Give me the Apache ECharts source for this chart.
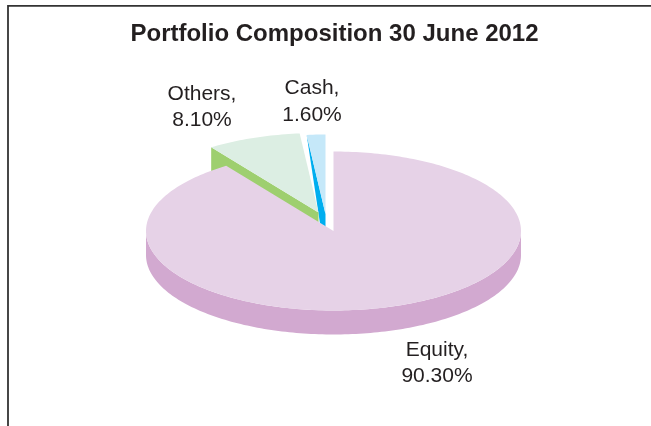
<!DOCTYPE html>
<html>
<head>
<meta charset="utf-8">
<style>
html, body { margin: 0; padding: 0; background: #fff; }
#chart1 { width: 651px; height: 426px; }
</style>
<script src="https://cdn.jsdelivr.net/npm/echarts@6/dist/echarts.min.js"></script>
</head>
<body>
<div id="chart1"></div>
<script>
/* portfolio composition, tilted pie */
var categories = ['Equity', 'Others', 'Cash'];
var shares = [90.3, 8.1, 1.6];
var labelTexts = ['Equity,\n90.30%', 'Others,\n8.10%', 'Cash,\n1.60%'];
var topColors = ['#e6d2e7', '#dceee3', '#c5e8f9'];
var wallColors = ['#d2a9d0', '#9ecf6f', '#00aeef'];

var cx = 333.5, cy = 231, rx = 187.5, ry = 79.5, depth = 24;
var fontName = '"Liberation Sans", Arial, sans-serif';

// how far each slice is pulled out of the pie, and where its label sits
var pull = { Equity: [0, 0], Others: [-15, -18.5], Cash: [-8, -17] };
var labelPos = { Equity: [437, 363], Others: [202, 107], Cash: [312, 101.5] };

var Lchart = echarts.init(document.getElementById('chart1'));

// angles run clockwise from 12 o'clock
function onRim(ox, oy, t) {
    return [ox + rx * Math.sin(t), oy - ry * Math.cos(t)];
}

function arcPoints(ox, oy, a, b) {
    var pts = [];
    var n = Math.max(2, Math.ceil(Math.abs(b - a) / 0.02));
    for (var i = 0; i <= n; i++) {
        pts.push(onRim(ox, oy, a + (b - a) * i / n));
    }
    return pts;
}

function poly(points, color) {
    return { type: 'polygon', shape: { points: points }, style: { fill: color } };
}

function renderSlice(params, api) {
    var i = api.value(0);
    var name = categories[i];
    var start = 0;
    for (var k = 0; k < i; k++) start += shares[k];
    var a = start / 100 * Math.PI * 2;
    var b = (start + shares[i]) / 100 * Math.PI * 2;
    var ox = cx + pull[name][0];
    var oy = cy + pull[name][1];
    var children = [];

    if (name === 'Equity') {
        // only the front half of the rim shows
        var front = arcPoints(ox, oy, Math.PI / 2, Math.PI * 1.5);
        var low = front.map(function (p) { return [p[0], p[1] + depth]; }).reverse();
        children.push(poly(front.concat(low), wallColors[i]));
    } else if (name === 'Others') {
        // cut face on the leading edge, its lower part is hidden by Equity
        var c1 = onRim(ox, oy, a);
        children.push(poly([c1, [ox, oy], [ox, oy + depth], [c1[0], c1[1] + depth]], wallColors[i]));
    } else {
        // thin sliver, tapers off to the back corner
        var c2 = onRim(ox, oy, a);
        children.push(poly([c2, [ox, oy], [ox, oy + 46]], wallColors[i]));
    }

    children.push(poly([[ox, oy]].concat(arcPoints(ox, oy, a, b)), topColors[i]));

    children.push({
        type: 'text',
        x: labelPos[name][0],
        y: labelPos[name][1],
        style: {
            text: labelTexts[i],
            font: '21px ' + fontName,
            lineHeight: 26.5,
            fill: '#231f20',
            align: 'center',
            verticalAlign: 'middle'
        }
    });

    return { type: 'group', children: children };
}

// back slices first, Equity overlaps them
var drawOrder = [2, 1, 0];

Lchart.setOption({
    animation: false,
    backgroundColor: '#ffffff',
    title: {
        text: 'Portfolio Composition 30 June 2012',
        left: 329.5,
        top: 17,
        textAlign: 'center',
        textStyle: { fontFamily: fontName, fontWeight: 'bold', fontSize: 24, color: '#231f20' }
    },
    graphic: [{
        type: 'polyline',
        shape: { points: [[8, 426], [8, 5.8], [651, 5.8]] },
        style: { stroke: '#333333', lineWidth: 1.8, fill: null },
        silent: true
    }],
    series: [{
        type: 'custom',
        coordinateSystem: 'none',
        renderItem: renderSlice,
        data: drawOrder.map(function (i) { return [i, shares[i]]; }),
        silent: true
    }]
});
</script>
</body>
</html>
